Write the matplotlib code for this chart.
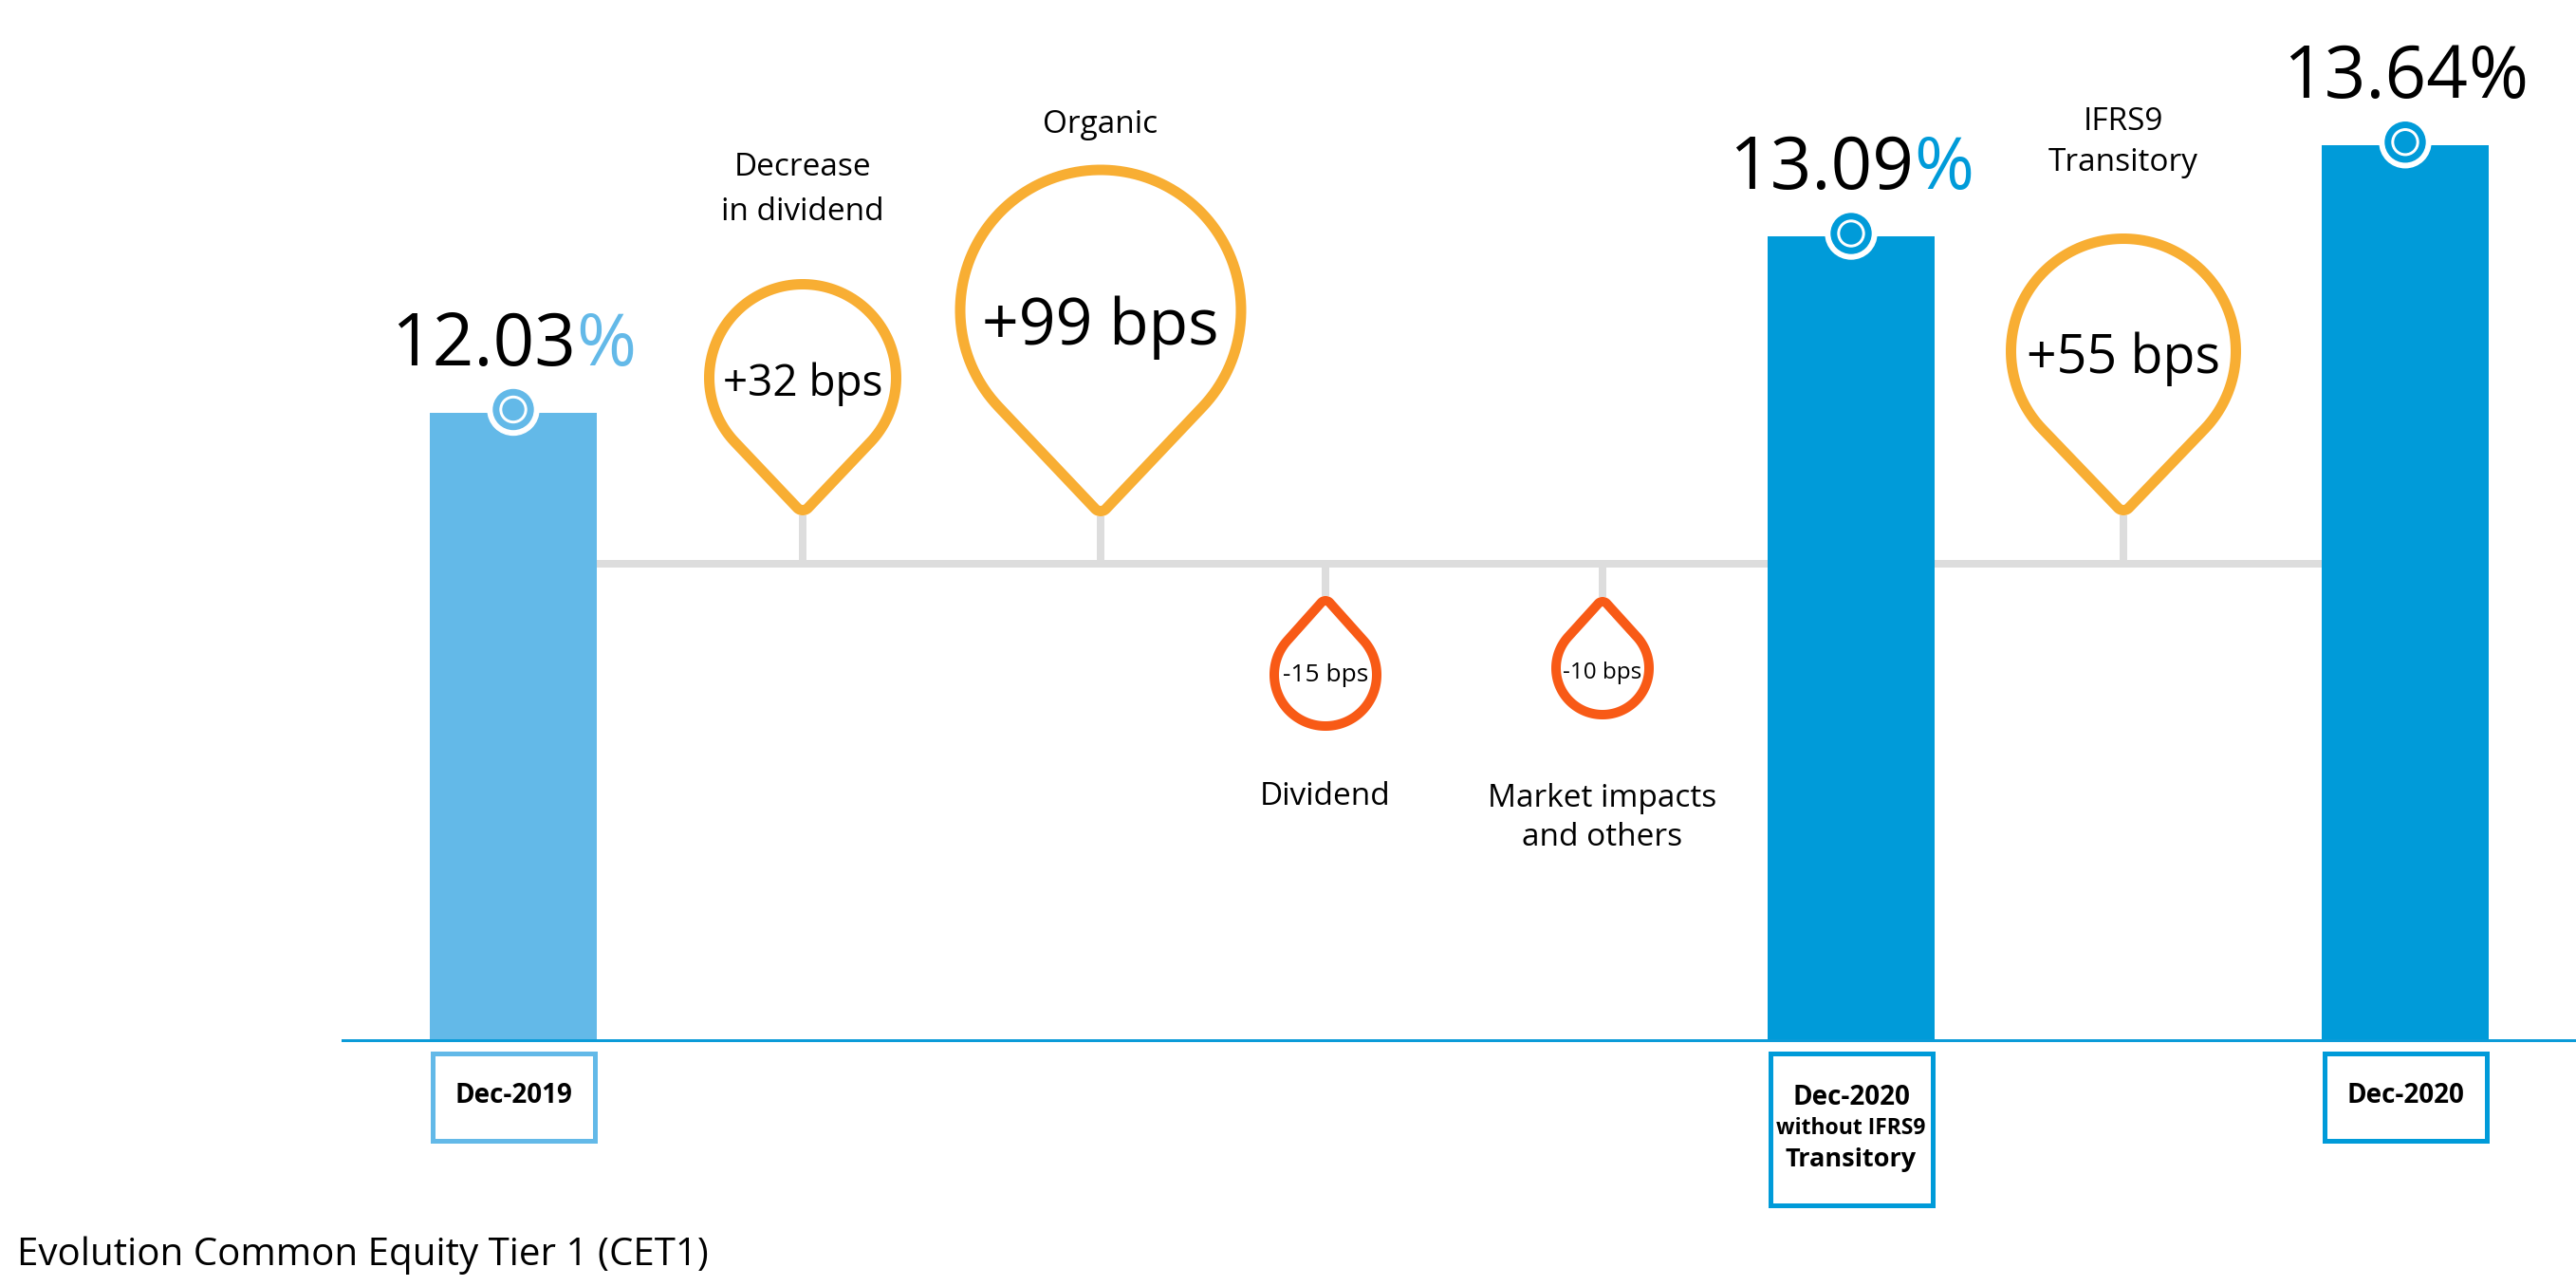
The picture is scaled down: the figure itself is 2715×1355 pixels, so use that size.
import numpy as np
import matplotlib
matplotlib.use("Agg")
import matplotlib.pyplot as plt
from matplotlib.patches import Circle, Rectangle, Polygon

plt.rcParams['font.family'] = ['Open Sans', 'DejaVu Sans']

# Datos
bar_names = ["Dec-2019", "Dec-2020\nwithout IFRS9\nTransitory", "Dec-2020"]
bar_values = [12.03, 13.09, 13.64]
step_names = ["Decrease\nin dividend", "Organic", "Dividend", "Market impacts\nand others", "IFRS9\nTransitory"]
step_bps = [32, 99, -15, -10, 55]
title = "Evolution Common Equity Tier 1 (CET1)"

# Layout (pixeles)
W, H = 2715, 1355
bar_x = [541, 1951, 2535]
bar_w = 176
bar_colors = ['#63b9e8', '#009bd9', '#009bd9']
pct_colors = ['#63b9e8', '#009bd9', 'black']
base_val = 8.25           # valor en la linea base (eje truncado)
base_px = 1096
px_per_pt = 175.0

pin_x = [846, 1160, 1397, 1689, 2238]
pin_cy = [398, 327, 711, 704, 370]
pin_r = [98.5, 148, 54, 49, 118.5]
pin_tip = [537.5, 538.5, 633, 634, 537.5]
pin_fs = [33, 49, 19, 17.5, 40]
pin_base = [417, 363, 718, 715, 393]
lbl_y = [185, 140, 848, 850, 137]
lbl_step = [47, 47, 41, 41, 43]
conn_y = 594

ORANGE = '#f8ae33'
RED = '#f85a16'
GRAY = '#dddddd'

fig = plt.figure(figsize=(W / 100, H / 100), dpi=100)
axp = fig.add_axes([0, 0, 1, 1])     # decoracion en pixeles
axp.set_xlim(0, W)
axp.set_ylim(H, 0)
axp.axis('off')
ax = fig.add_axes([0, 0, 1, 1])      # barras, eje en %
ax.set_xlim(0, W)
ax.set_ylim(base_val - (H - base_px) / px_per_pt, base_val + base_px / px_per_pt)
ax.axis('off')
ax.patch.set_alpha(0)

# Linea conectora y barras
axp.plot([bar_x[0], bar_x[-1]], [conn_y, conn_y], color=GRAY, lw=8 * 0.72,
         solid_capstyle='butt', zorder=1)
ax.bar(bar_x, np.array(bar_values) - base_val, bottom=base_val, width=bar_w,
       color=bar_colors, zorder=2)
ax.plot([361, W], [base_val, base_val], color='#0b9bd8', lw=3 * 0.72, zorder=3)


def to_px(x, v):
    d = ax.transData.transform((x, v))
    return axp.transData.inverted().transform(d)


renderer = fig.canvas.get_renderer()
for i, (x, v) in enumerate(zip(bar_x, bar_values)):
    _, ytop = to_px(x, v)
    cy = ytop - 3
    for r, c in [(27, 'white'), (21, bar_colors[i]), (14, 'white'), (11, bar_colors[i])]:
        ax.add_artist(Circle((x, cy), r, color=c, zorder=5, transform=axp.transData))
    # etiqueta del valor
    yb = ytop - 50
    t1 = ax.text(0, 0, f"{v:.2f}", fontsize=55, color='black', ha='left',
                 va='baseline', transform=axp.transData, zorder=6)
    t2 = ax.text(0, 0, "%", fontsize=55, color=pct_colors[i], ha='left',
                 va='baseline', transform=axp.transData, zorder=6)
    w1 = t1.get_window_extent(renderer).width
    w2 = t2.get_window_extent(renderer).width
    left = x - (w1 + w2) / 2
    t1.set_position((left, yb))
    t2.set_position((left + w1, yb))

    # caja de fecha
    bot = 1272 if i == 1 else 1204
    ax.add_patch(Rectangle((x - bar_w / 2 + 2.5, 1109.5), bar_w - 5, bot - 1112,
                           fill=False, edgecolor=bar_colors[i], lw=5 * 0.72,
                           transform=axp.transData, zorder=4))
    lines = bar_names[i].split("\n")
    if len(lines) == 1:
        axp.text(x, 1155, lines[0], fontsize=20, fontweight='bold', ha='center',
                 va='center')
    else:
        sizes = [20, 16.5, 19.5]
        for j, ln in enumerate(lines):
            axp.text(x, 1156 + 33 * j, ln, fontsize=sizes[j], fontweight='bold',
                     ha='center', va='center')


def pin_path(cx, cy, R, tip, rho):
    sgn = 1 if tip > cy else -1
    ty = tip - sgn * rho
    D = abs(ty - cy)
    beta = np.arccos((R - rho) / D)
    a_big = np.linspace(beta, 2 * np.pi - beta, 120)
    a_small = np.linspace(-beta, beta, 20)
    pts = [(cx + R * np.sin(a), cy + sgn * R * np.cos(a)) for a in a_big]
    pts += [(cx + rho * np.sin(a), ty + sgn * rho * np.cos(a)) for a in a_small]
    return pts


for i, bps in enumerate(step_bps):
    col = ORANGE if bps > 0 else RED
    lw = 11 if bps > 0 else 10
    rho = 8 if bps > 0 else 6
    outer_tip = pin_tip[i] + (lw / 2 if bps > 0 else -lw / 2)
    axp.plot([pin_x[i], pin_x[i]], [conn_y, outer_tip], color=GRAY, lw=8 * 0.72,
             solid_capstyle='butt', zorder=1)
    poly = Polygon(pin_path(pin_x[i], pin_cy[i], pin_r[i], pin_tip[i], rho), closed=True,
                   facecolor='white', edgecolor=col, lw=lw * 0.72, joinstyle='round',
                   zorder=3)
    axp.add_patch(poly)
    axp.text(pin_x[i], pin_base[i], f"{bps:+d} bps", fontsize=pin_fs[i], ha='center',
             va='baseline', zorder=4)
    for j, ln in enumerate(step_names[i].split("\n")):
        axp.text(pin_x[i], lbl_y[i] + lbl_step[i] * j, ln, fontsize=24, ha='center',
                 va='baseline')

axp.text(18, 1333, title, fontsize=29, ha='left', va='baseline')

fig.savefig("out.png", dpi=100)
